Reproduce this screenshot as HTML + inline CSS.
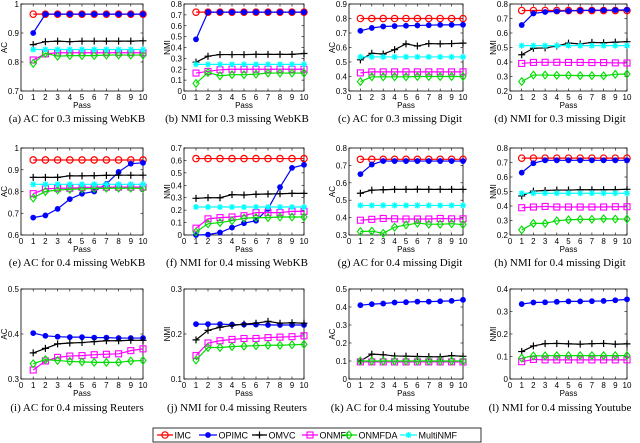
<!DOCTYPE html>
<html><head><meta charset="utf-8">
<style>
html,body{margin:0;padding:0;background:#fff;}
svg{display:block;}
</style></head>
<body>
<svg id="fig" width="640" height="443" viewBox="0 0 640 443" xmlns="http://www.w3.org/2000/svg" font-family="Liberation Sans, sans-serif"></svg>
<script>
const passes = [1,2,3,4,5,6,7,8,9,10];
const seriesNames = ["IMC","OPIMC","OMVC","ONMFI","ONMFDA","MultiNMF"];
const panelTitles = ["(a)  AC for 0.3 missing WebKB","(b)  NMI for 0.3 missing WebKB","(c)  AC for 0.3 missing Digit","(d)  NMI for 0.3 missing Digit","(e)  AC for 0.4 missing WebKB","(f)  NMI for 0.4 missing WebKB","(g)  AC for 0.4 missing Digit","(h)  NMI for 0.4 missing Digit","(i)  AC for 0.4 missing Reuters","(j)  NMI for 0.4 missing Reuters","(k)  AC for 0.4 missing Youtube","(l)  NMI for 0.4 missing Youtube"];
const yLabels = ["AC","NMI","AC","NMI","AC","NMI","AC","NMI","AC","NMI","AC","NMI"];
const yMins = [0.7,0,0.3,0.2,0.6,0,0.3,0.2,0.3,0.1,0,0];
const yMaxs = [1,0.8,0.9,0.8,1,0.7,0.8,0.8,0.5,0.3,0.5,0.4];
const yTickSteps = [0.1,0.1,0.1,0.1,0.1,0.1,0.1,0.1,0.1,0.1,0.1,0.1];
const xTicks = [0,1,2,3,4,5,6,7,8,9,10];
// values per panel: [IMC, OPIMC, OMVC, ONMFI, ONMFDA, MultiNMF] (null = absent)
const dataA = [
 [.965,.965,.965,.965,.965,.965,.965,.965,.965,.965],
 [.90,.965,.965,.965,.965,.965,.965,.965,.965,.965],
 [.86,.87,.872,.87,.872,.872,.872,.872,.872,.873],
 [.807,.828,.832,.832,.832,.832,.832,.832,.832,.832],
 [.795,.83,.82,.822,.822,.822,.824,.824,.824,.824],
 [.843,.843,.843,.843,.843,.843,.843,.843,.843,.843]];
const dataB = [
 [.725,.725,.725,.725,.725,.725,.725,.725,.725,.725],
 [.475,.725,.725,.725,.725,.725,.725,.725,.725,.725],
 [.265,.32,.335,.335,.335,.337,.337,.337,.337,.345],
 [.165,.18,.195,.2,.2,.2,.2,.2,.2,.2],
 [.07,.17,.14,.15,.15,.155,.165,.165,.165,.165],
 [.245,.245,.245,.245,.245,.245,.245,.245,.245,.245]];
const dataC = [
 [.80,.80,.80,.80,.80,.80,.80,.80,.80,.80],
 [.715,.735,.745,.748,.75,.752,.754,.756,.756,.757],
 [.515,.56,.555,.585,.625,.61,.627,.625,.627,.63],
 [.425,.432,.432,.432,.432,.432,.432,.432,.432,.432],
 [.365,.398,.398,.398,.398,.4,.4,.4,.4,.4],
 [.535,.535,.535,.535,.535,.535,.535,.535,.535,.535]];
const dataD = [
 [.755,.755,.755,.755,.755,.755,.755,.755,.755,.755],
 [.655,.735,.745,.75,.752,.755,.757,.757,.758,.76],
 [.45,.495,.497,.51,.53,.525,.535,.533,.537,.54],
 [.39,.397,.398,.398,.397,.397,.396,.396,.394,.393],
 [.265,.31,.31,.308,.308,.306,.306,.305,.315,.317],
 [.513,.513,.513,.513,.513,.513,.513,.513,.513,.513]];
const dataE = [
 [.945,.945,.945,.945,.945,.945,.945,.945,.945,.945],
 [.68,.69,.72,.765,.79,.80,.835,.89,.928,.932],
 [.865,.865,.865,.872,.872,.873,.874,.875,.875,.875],
 [.79,.812,.815,.815,.818,.82,.82,.82,.82,.82],
 [.77,.80,.807,.81,.812,.814,.815,.815,.815,.815],
 [.833,.833,.833,.833,.833,.833,.833,.833,.833,.833]];
const dataF = [
 [.615,.615,.615,.615,.615,.615,.615,.615,.615,.615],
 [0,.003,.02,.06,.095,.115,.21,.385,.54,.565],
 [.295,.30,.30,.325,.322,.328,.33,.332,.335,.335],
 [.055,.13,.14,.145,.155,.18,.18,.18,.19,.19],
 [.025,.09,.10,.115,.135,.14,.14,.145,.145,.145],
 [.225,.225,.225,.225,.225,.225,.225,.225,.225,.225]];
const dataG = [
 [.735,.735,.735,.735,.735,.735,.735,.735,.735,.735],
 [.65,.705,.725,.725,.725,.725,.725,.725,.725,.725],
 [.54,.558,.56,.562,.562,.563,.562,.562,.562,.562],
 [.385,.39,.395,.393,.392,.392,.392,.395,.393,.393],
 [.32,.322,.31,.345,.358,.368,.362,.362,.365,.36],
 [.47,.47,.47,.47,.47,.47,.47,.47,.47,.47]];
const dataH = [
 [.73,.73,.73,.73,.73,.73,.73,.73,.73,.73],
 [.63,.695,.715,.715,.715,.715,.715,.715,.715,.715],
 [.47,.503,.507,.51,.51,.512,.512,.512,.513,.515],
 [.388,.393,.397,.393,.393,.393,.393,.393,.395,.395],
 [.235,.28,.28,.298,.305,.308,.308,.312,.31,.31],
 [.488,.488,.488,.488,.488,.488,.488,.488,.488,.488]];
const dataI = [null,
 [.402,.396,.394,.393,.393,.392,.392,.391,.391,.391],
 [.358,.368,.378,.38,.381,.383,.385,.385,.386,.386],
 [.32,.34,.348,.351,.352,.354,.355,.356,.363,.367],
 [.334,.343,.341,.339,.338,.337,.337,.337,.34,.341], null];
const dataJ = [null,
 [.222,.222,.222,.221,.221,.221,.22,.22,.22,.22],
 [.187,.208,.215,.219,.222,.224,.228,.224,.225,.224],
 [.152,.18,.185,.188,.19,.19,.192,.193,.194,.196],
 [.142,.17,.17,.172,.173,.174,.175,.175,.176,.177], null];
const dataK = [null,
 [.41,.416,.419,.425,.427,.43,.43,.432,.434,.44],
 [.10,.138,.135,.128,.127,.125,.124,.123,.13,.126],
 [.095,.095,.095,.095,.095,.095,.095,.095,.095,.095],
 [.10,.10,.10,.10,.10,.10,.10,.10,.10,.10], null];
const dataL = [null,
 [.333,.34,.341,.343,.345,.345,.346,.347,.35,.354],
 [.122,.147,.157,.158,.156,.155,.157,.158,.155,.156],
 [.077,.087,.085,.085,.085,.085,.085,.085,.085,.085],
 [.093,.103,.103,.104,.104,.104,.104,.104,.104,.104], null];
const allData = [dataA,dataB,dataC,dataD,dataE,dataF,dataG,dataH,dataI,dataJ,dataK,dataL];

const NS="http://www.w3.org/2000/svg";
const svg=document.getElementById('fig');
const colors=["#ff0000","#0000ff","#000000","#ff00ff","#00dd00","#00ffff"];
const colLeft=[21,184,349,510], colW=[122,120,114,117];
const rowTop=[4,148,289], rowH=[87,87,90];
const capX=[77,237,400,560], capY=[122,266,411];
function mk(tag,attrs,parent){const e=document.createElementNS(NS,tag);for(const k in attrs)e.setAttribute(k,attrs[k]);(parent||svg).appendChild(e);return e;}
function fmt(v){let s=(Math.round(v*10)/10).toString();return s;}
function marker(g,k,x,y){
  const c=colors[k];
  if(k===0){const m=mk('circle',{cx:x,cy:y,r:3.2,fill:'none',stroke:c,'stroke-width':1.2},g);return m;}
  if(k===1){return mk('circle',{cx:x,cy:y,r:2.6,fill:c,stroke:c,'stroke-width':0.6},g);}
  if(k===2){return mk('path',{d:`M${x-3.5},${y}H${x+3.5}M${x},${y-3.5}V${y+3.5}`,stroke:c,'stroke-width':1.2},g);}
  if(k===3){return mk('rect',{x:x-3,y:y-3,width:6,height:6,fill:'none',stroke:c,'stroke-width':1.1},g);}
  if(k===4){return mk('path',{d:`M${x},${y-3.8}L${x+3},${y}L${x},${y+3.8}L${x-3},${y}Z`,fill:'none',stroke:c,'stroke-width':1.1},g);}
  return mk('path',{d:`M${x-3},${y}H${x+3}M${x},${y-3}V${y+3}M${x-2.2},${y-2.2}L${x+2.2},${y+2.2}M${x-2.2},${y+2.2}L${x+2.2},${y-2.2}`,stroke:c,'stroke-width':1.3},g);
}
allData.forEach((data,p)=>{
  const col=p%4,row=Math.floor(p/4);
  const L=colLeft[col],T=rowTop[row],W=colW[col],H=rowH[row];
  const g=mk('g',{});
  
  
  const xs=v=>L+v/10*W;
  const ys=v=>T+H-(v-yMins[p])/(yMaxs[p]-yMins[p])*H;
  mk('rect',{x:L,y:T,width:W,height:H,fill:'#fff',stroke:'#000','stroke-width':0.8},g);
  xTicks.forEach(t=>{const x=xs(t);
    mk('line',{x1:x,y1:T+H,x2:x,y2:T+H-2.5,stroke:'#000','stroke-width':0.6},g);
    mk('line',{x1:x,y1:T,x2:x,y2:T+2.5,stroke:'#000','stroke-width':0.6},g);
    const tx=mk('text',{x:x,y:T+H+9,'font-size':8,'text-anchor':'middle',fill:'#000'},g);tx.textContent=t;});
  const n=Math.round((yMaxs[p]-yMins[p])/yTickSteps[p]);
  for(let i=0;i<=n;i++){const v=yMins[p]+i*yTickSteps[p];const y=ys(v);
    mk('line',{x1:L,y1:y,x2:L+2.5,y2:y,stroke:'#000','stroke-width':0.6},g);
    mk('line',{x1:L+W,y1:y,x2:L+W-2.5,y2:y,stroke:'#000','stroke-width':0.6},g);
    const tx=mk('text',{x:L-2,y:y+3,'font-size':8,'text-anchor':'end',fill:'#000'},g);tx.textContent=fmt(v);}
  const xl=mk('text',{x:L+W/2,y:T+H+17,'font-size':8,'text-anchor':'middle'},g);xl.textContent='Pass';
  
  const yl=mk('text',{x:0,y:0,'font-size':8,'text-anchor':'middle',transform:`translate(${L-14},${T+H/2}) rotate(-90)`},g);yl.textContent=yLabels[p];
  
  data.forEach((vals,k)=>{ if(!vals) return;
    const sg=mk('g',{},g);
    
    
    mk('polyline',{points:vals.map((v,i)=>xs(passes[i])+','+ys(v)).join(' '),fill:'none',stroke:colors[k],'stroke-width':1.2},sg);
    vals.forEach((v,i)=>{const m=marker(sg,k,xs(passes[i]),ys(v));
      });
  });
  const cap=mk('text',{x:capX[col],y:capY[row],'font-size':11,'text-anchor':'middle','font-family':'Liberation Serif, serif'});
  cap.setAttribute('xml:space','preserve');
  cap.textContent=panelTitles[p];
  
});
// legend
const lg=mk('g',{});


mk('rect',{x:153,y:428,width:328,height:14,fill:'#fff',stroke:'#000','stroke-width':0.8},lg);
const legLine=[[157,173],[199,217],[252,267],[302,318],[341,357],[400,417]];
seriesNames.forEach((nm,k)=>{
  const eg=mk('g',{},lg);
  
  
  const [a,b]=legLine[k];
  mk('line',{x1:a,y1:435,x2:b,y2:435,stroke:colors[k],'stroke-width':1.3},eg);
  marker(eg,k,(a+b)/2,435);
  const t=mk('text',{x:b+1.5,y:438.5,'font-size':9},eg);t.textContent=nm;
});
</script>
</body></html>
